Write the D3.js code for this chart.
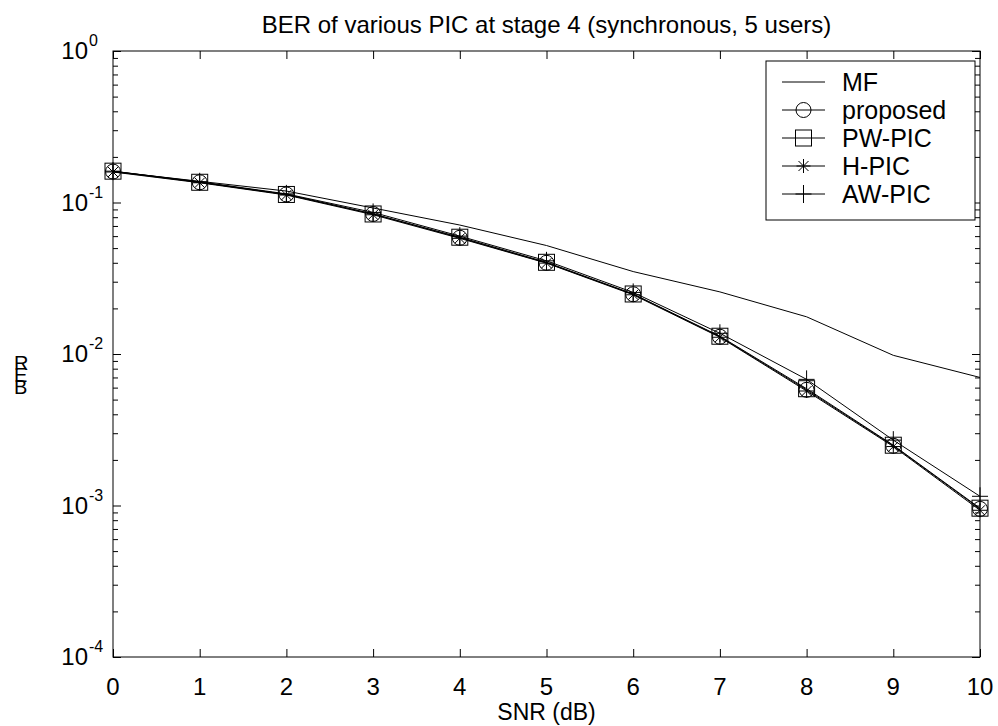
<!DOCTYPE html>
<html><head><meta charset="utf-8">
<script src="https://cdn.jsdelivr.net/npm/d3@7/dist/d3.min.js"></script>
<style>
body{margin:0;background:#fff}
svg{display:block}
text{font-family:"Liberation Sans",Arial,sans-serif;fill:#000}
</style>
</head><body>
<svg id="chart" width="998" height="726"></svg>
<script>
const snr = [0,1,2,3,4,5,6,7,8,9,10];
const mf       = [0.160,0.138,0.119,0.092,0.071,0.052,0.035,0.0257,0.0176,0.0098,0.0070];
const proposed = [0.160,0.136,0.113,0.084,0.0585,0.0400,0.0248,0.0130,0.0058,0.00248,0.00095];
const pwpic    = [0.161,0.136,0.113,0.084,0.0590,0.0403,0.0249,0.0131,0.0059,0.00250,0.00096];
const hpic     = [0.159,0.135,0.112,0.083,0.0580,0.0398,0.0246,0.0129,0.0057,0.00245,0.00093];
const awpic    = [0.161,0.137,0.114,0.086,0.0600,0.0412,0.0255,0.0137,0.0068,0.00270,0.00115];
const seriesNames = ["MF","proposed","PW-PIC","H-PIC","AW-PIC"];
const seriesMarkers = ["none","circle","square","asterisk","plus"];
const xTicks = [0,1,2,3,4,5,6,7,8,9,10];
const yExponents = [0,-1,-2,-3,-4];
const titleText = "BER of various PIC at stage 4 (synchronous, 5 users)";
const xLabel = "SNR (dB)";
const yLabel = "BER";

const series = [mf, proposed, pwpic, hpic, awpic].map((v,i)=>({name:seriesNames[i], marker:seriesMarkers[i], values:v}));

const L=113, R=980, T=51, B=657;
const svg = d3.select("#chart");
const x = d3.scaleLinear().domain([0,10]).range([L,R]);
const y = d3.scaleLog().domain([1e-4,1]).range([B,T]);

const yTickVals = [];
for (let e=-4; e<0; e++) for (let m=1; m<10; m++) yTickVals.push(m*Math.pow(10,e));
yTickVals.push(1);
const isMajor = v => Math.abs(Math.log10(v) - Math.round(Math.log10(v))) < 1e-9;

function styleAxis(g){
  g.select(".domain").remove();
  g.selectAll(".tick line").attr("stroke","#000").attr("stroke-width",1);
}

svg.append("g").attr("transform",`translate(0,${B})`)
  .call(d3.axisBottom(x).tickValues(xTicks).tickSizeInner(-8).tickSizeOuter(0).tickPadding(0).tickFormat(""))
  .call(styleAxis);
svg.append("g").attr("transform",`translate(0,${T})`)
  .call(d3.axisTop(x).tickValues(xTicks).tickSizeInner(-8).tickSizeOuter(0).tickFormat(""))
  .call(styleAxis);
const yl = svg.append("g").attr("transform",`translate(${L},0)`)
  .call(d3.axisLeft(y).tickValues(yTickVals).tickSizeInner(-8).tickSizeOuter(0).tickFormat(""))
  .call(styleAxis);
yl.selectAll(".tick line").attr("x2", d => isMajor(d) ? 8 : 5);
const yr = svg.append("g").attr("transform",`translate(${R},0)`)
  .call(d3.axisRight(y).tickValues(yTickVals).tickSizeInner(-8).tickSizeOuter(0).tickFormat(""))
  .call(styleAxis);
yr.selectAll(".tick line").attr("x2", d => isMajor(d) ? -8 : -5);

svg.append("rect").attr("x",L).attr("y",T).attr("width",R-L).attr("height",B-T)
  .attr("fill","none").attr("stroke","#000").attr("stroke-width",1);

svg.append("g").selectAll("text").data(xTicks).join("text")
  .attr("x", d=>x(d)).attr("y", 695).attr("text-anchor","middle")
  .attr("font-size",24).text(d=>d);

const ylab = svg.append("g").selectAll("g").data(yExponents).join("g")
  .attr("transform", d=>`translate(0,${y(Math.pow(10,d))})`);
ylab.append("text").attr("x",88).attr("y",8).attr("text-anchor","end").attr("font-size",24).text("10");
ylab.append("text").attr("x",89).attr("y",-5).attr("text-anchor","start").attr("font-size",16).text(d=>d);

svg.append("text").attr("x",(L+R)/2).attr("y",33).attr("text-anchor","middle").attr("font-size",24).text(titleText);
svg.append("text").attr("x",(L+R)/2).attr("y",720).attr("text-anchor","middle").attr("font-size",23).text(xLabel);
const ych = yLabel.split("").reverse();
svg.append("g").selectAll("text").data(ych).join("text")
  .attr("x",14).attr("y",(d,i)=>370+i*12).attr("font-size",20).text(d=>d);

const line = d3.line().x((d,i)=>x(snr[i])).y(d=>y(d));
const plot = svg.append("g");
series.forEach(s=>{
  plot.append("path").datum(s.values).attr("d",line)
    .attr("fill","none").attr("stroke","#000").attr("stroke-width",1);
});

function drawMarker(g, type, cx, cy){
  const st = sel => sel.attr("fill","none").attr("stroke","#000").attr("stroke-width",1);
  if (type==="circle") st(g.append("circle").attr("cx",cx).attr("cy",cy).attr("r",7.5));
  else if (type==="square") st(g.append("rect").attr("x",cx-8).attr("y",cy-8).attr("width",16).attr("height",16));
  else if (type==="plus") st(g.append("path").attr("d",`M${cx-8},${cy}H${cx+8}M${cx},${cy-9}V${cy+9}`));
  else if (type==="asterisk") {
    const a=7, b=5;
    st(g.append("path").attr("d",`M${cx-a},${cy}H${cx+a}M${cx},${cy-a}V${cy+a}M${cx-b},${cy-b}L${cx+b},${cy+b}M${cx-b},${cy+b}L${cx+b},${cy-b}`));
  }
}
series.forEach(s=>{
  if (s.marker==="none") return;
  s.values.forEach((v,i)=>drawMarker(plot, s.marker, x(snr[i]), y(v)));
});

const lg = svg.append("g");
const lx=766, ly=61, lw=209, lh=159;
lg.append("rect").attr("x",lx).attr("y",ly).attr("width",lw).attr("height",lh)
  .attr("fill","#fff").attr("stroke","#000").attr("stroke-width",1);
series.forEach((s,i)=>{
  const cy = 82 + i*28;
  lg.append("line").attr("x1",782).attr("x2",825).attr("y1",cy).attr("y2",cy).attr("stroke","#000").attr("stroke-width",1);
  if (s.marker!=="none") drawMarker(lg, s.marker, 803.5, cy);
  lg.append("text").attr("x",842).attr("y",cy+9).attr("font-size",25).text(s.name);
});
</script>
</body></html>
